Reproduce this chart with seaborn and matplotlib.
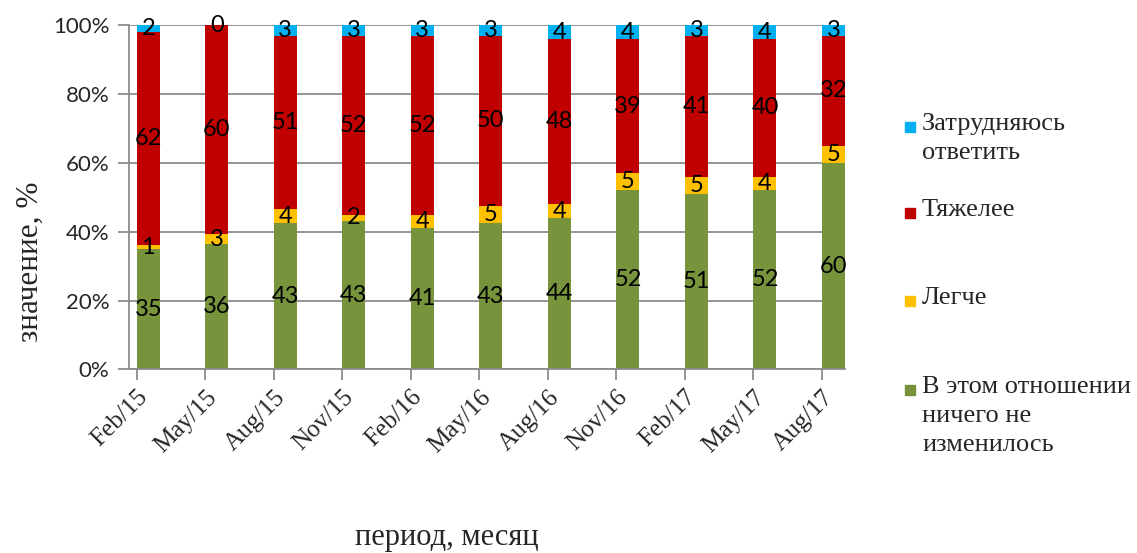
import numpy as np
import seaborn as sns
import matplotlib.pyplot as plt
from matplotlib.patches import Rectangle
from matplotlib.ticker import PercentFormatter

# Data
periods = ['Feb/15', 'May/15', 'Aug/15', 'Nov/15', 'Feb/16', 'May/16',
           'Aug/16', 'Nov/16', 'Feb/17', 'May/17', 'Aug/17']
no_change = [35, 36, 43, 43, 41, 43, 44, 52, 51, 52, 60]
easier = [1, 3, 4, 2, 4, 5, 4, 5, 5, 4, 5]
harder = [62, 60, 51, 52, 52, 50, 48, 39, 41, 40, 32]
hard_to_say = [2, 0, 3, 3, 3, 3, 4, 4, 3, 4, 3]

series_names = ['В этом отношении\nничего не\nизменилось', 'Легче', 'Тяжелее',
                'Затрудняюсь\nответить']
colors = ['#77933C', '#FFC000', '#C00000', '#00B0F0']

sns.set_style('white')
plt.rcParams['font.family'] = ['Lato', 'DejaVu Sans']
serif = ['Liberation Serif', 'DejaVu Serif']

fig = plt.figure(figsize=(11.37, 5.53), dpi=100)
ax = fig.add_axes([0.1135, 0.3322, 0.6297, 0.622])

series = [no_change, easier, harder, hard_to_say]
raw = np.array(series, dtype=float)
shares = raw / raw.sum(axis=0) * 100

bw = 0.336
bottom = np.zeros(len(periods))
for vals, share, col in zip(series, shares, colors):
    sns.barplot(x=periods, y=share, bottom=bottom, color=col, width=bw,
                saturation=1, errorbar=None, order=periods, linewidth=0,
                edgecolor='none', ax=ax)
    ax.bar_label(ax.containers[-1], labels=[str(v) for v in vals],
                 label_type='center', fontsize=17, color='black')
    bottom = bottom + share

# axes styling
ax.set_ylim(0, 100)
ax.set_xlim(-bw / 2 - 0.112, len(periods) - 1 + bw / 2)
ax.yaxis.set_major_formatter(PercentFormatter(decimals=0))
ax.set_yticks(np.arange(0, 101, 20))
ax.grid(axis='y', color='#8c8c8c', linewidth=1.3)
ax.grid(axis='x', visible=False)
ax.set_axisbelow(True)
for s in ['top', 'right']:
    ax.spines[s].set_visible(False)
for s in ['left', 'bottom']:
    ax.spines[s].set_color('#8c8c8c')
    ax.spines[s].set_linewidth(1.3)

ax.set_xticks(np.arange(len(periods)) - bw / 2)
ax.set_xticklabels(periods, rotation=45, ha='right', rotation_mode='anchor',
                   family=serif, fontsize=18)
ax.tick_params(axis='x', direction='out', length=8, width=1.3, color='#8c8c8c',
               bottom=True, pad=4)
ax.tick_params(axis='y', direction='out', length=8, width=1.3, color='#8c8c8c',
               left=True, labelsize=16, pad=6)
ax.set_xlabel('')
ax.set_ylabel('')

fig.text(30 / 1137, 1 - 262 / 553, 'значение, %', rotation=90, ha='center',
         va='center', family=serif, fontsize=22.5)
fig.text(447 / 1137, 1 - 537 / 553, 'период, месяц', ha='center', va='center',
         family=serif, fontsize=22)

# legend drawn by hand to keep Excel's uneven spacing
W, H = 1137, 553
leg_y = [127, 213, 301, 390]
for name, col, y in zip(series_names[::-1], colors[::-1], leg_y):
    fig.add_artist(Rectangle((905 / W, 1 - (y + 5) / H), 10 / W, 10 / H,
                             transform=fig.transFigure, color=col))
    fig.text(922 / W, 1 - (y - 14) / H, name, ha='left', va='top',
             family=serif, fontsize=19, linespacing=1.4)

fig.savefig('out.png', dpi=100)
